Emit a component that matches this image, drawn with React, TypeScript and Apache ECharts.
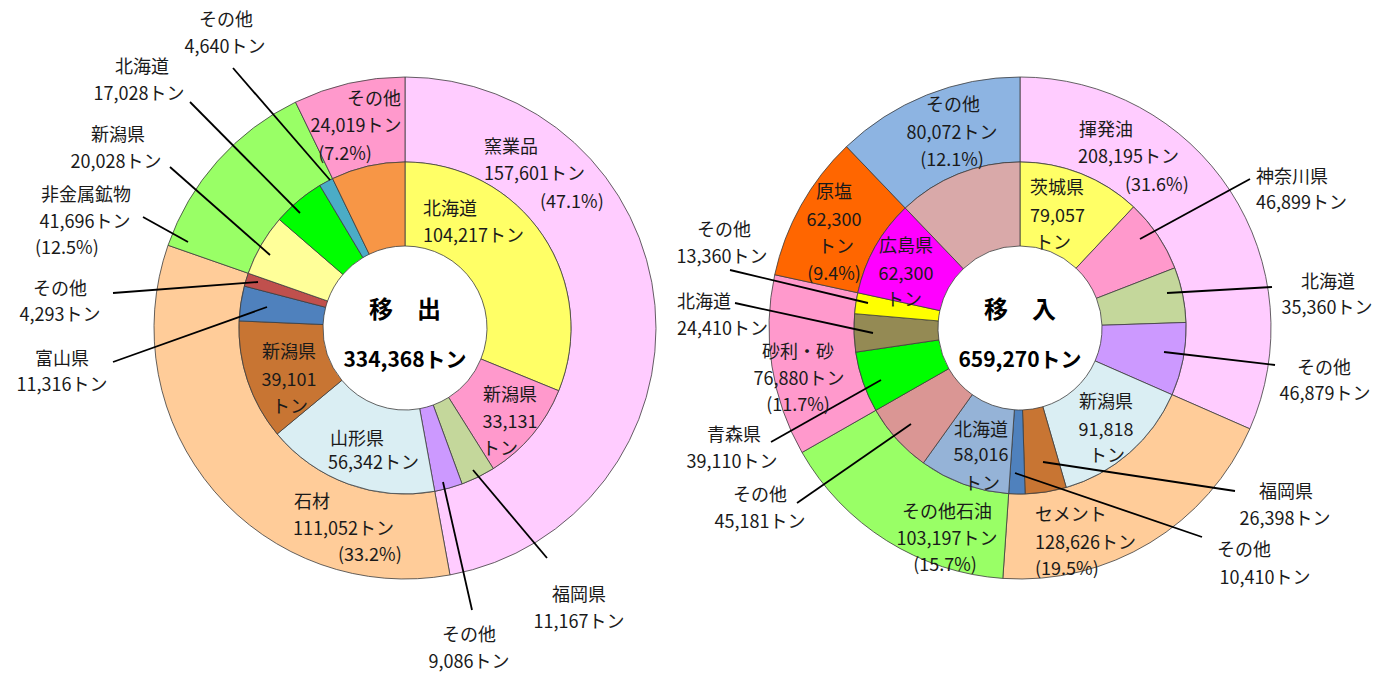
import React, { useEffect, useRef } from 'react';
import * as echarts from 'echarts';

// ---------- data ----------
const leftTitle = '移　出';
const leftOuterNames = ['窯業品', '石材', '非金属鉱物', 'その他'];
const leftOuterValues = [157601, 111052, 41696, 24019];
const leftInnerNames = ['北海道', '新潟県', '福岡県', 'その他', '山形県', '新潟県', '富山県', 'その他', '新潟県', '北海道', 'その他', 'その他'];
const leftInnerValues = [104217, 33131, 11167, 9086, 56342, 39101, 11316, 4293, 20028, 17028, 4640, 24019];

const rightTitle = '移　入';
const rightOuterNames = ['揮発油', 'セメント', 'その他石油', '砂利・砂', '原塩', 'その他'];
const rightOuterValues = [208195, 128626, 103197, 76880, 62300, 80072];
const rightInnerNames = ['茨城県', '神奈川県', '北海道', 'その他', '新潟県', '福岡県', 'その他', '北海道', 'その他', '青森県', '北海道', 'その他', '広島県', 'その他'];
const rightInnerValues = [79057, 46899, 35360, 46879, 91818, 26398, 10410, 58016, 45181, 39110, 24410, 13360, 62300, 80072];

// ---------- colours ----------
const leftOuterColors = ['#FFCCFF', '#FFCC99', '#99FF66', '#FF99CC'];
const leftInnerColors = ['#FFFF66', '#FF99CC', '#C4D79B', '#CC99FF', '#DAEEF3', '#C87533', '#4F81BD', '#C0504D', '#FFFF99', '#00FF00', '#4BACC6', '#F79646'];
const rightOuterColors = ['#FFCCFF', '#FFCC99', '#99FF66', '#FF99CC', '#FF6600', '#8DB4E2'];
const rightInnerColors = ['#FFFF66', '#FF99CC', '#C4D79B', '#CC99FF', '#DAEEF3', '#C87533', '#4F81BD', '#95B3D7', '#DA9694', '#00FF00', '#948A54', '#FFFF00', '#FF00FF', '#D9A9A9'];

// ---------- label layout (positions only) ----------
type Ln = [number, number, 'c' | 'l'];
type Lab = { src: string; idx: number; pct?: boolean; split?: boolean; lines: Ln[]; leader?: [number, number, number, number] };

const labelLayout: Lab[] = [
  // left outer
  { src: 'LO', idx: 3, pct: true, lines: [[374, 97, 'c'], [356, 124, 'c'], [345, 152, 'c']] },
  { src: 'LO', idx: 0, pct: true, lines: [[484, 145, 'l'], [484, 172, 'l'], [540, 200, 'l']] },
  { src: 'LO', idx: 1, pct: true, lines: [[294, 500, 'l'], [293, 527, 'l'], [338, 553, 'l']] },
  { src: 'LO', idx: 2, pct: true, lines: [[86, 193, 'c'], [85, 220, 'c'], [35, 246, 'l']], leader: [143, 217, 188, 242] },
  // left inner
  { src: 'LI', idx: 0, lines: [[423, 207, 'l'], [423, 234, 'l']] },
  { src: 'LI', idx: 1, split: true, lines: [[510, 393, 'c'], [510, 420, 'c'], [500, 447, 'c']] },
  { src: 'LI', idx: 2, lines: [[579, 593, 'c'], [579, 620, 'c']], leader: [547, 558, 473, 470] },
  { src: 'LI', idx: 3, lines: [[469, 633, 'c'], [469, 660, 'c']], leader: [472, 610, 443, 482] },
  { src: 'LI', idx: 4, lines: [[330, 437, 'l'], [328, 461, 'l']] },
  { src: 'LI', idx: 5, split: true, lines: [[289, 350, 'c'], [289, 378, 'c'], [290, 405, 'c']] },
  { src: 'LI', idx: 6, lines: [[62, 357, 'c'], [62, 383, 'c']], leader: [113, 362, 267, 307] },
  { src: 'LI', idx: 7, lines: [[60, 287, 'c'], [60, 313, 'c']], leader: [113, 293, 258, 282] },
  { src: 'LI', idx: 8, lines: [[118, 133, 'c'], [116, 160, 'c']], leader: [170, 167, 270, 255] },
  { src: 'LI', idx: 9, lines: [[142, 65, 'c'], [139, 92, 'c']], leader: [190, 102, 300, 213] },
  { src: 'LI', idx: 10, lines: [[226, 18, 'c'], [225, 45, 'c']], leader: [233, 68, 330, 180] },
  // right outer
  { src: 'RO', idx: 0, pct: true, lines: [[1079, 128, 'l'], [1078, 155, 'l'], [1125, 183, 'l']] },
  { src: 'RO', idx: 1, pct: true, lines: [[1035, 513, 'l'], [1035, 541, 'l'], [1035, 567, 'l']] },
  { src: 'RO', idx: 2, pct: true, lines: [[947, 510, 'c'], [947, 537, 'c'], [945, 563, 'c']] },
  { src: 'RO', idx: 3, pct: true, lines: [[798, 350, 'c'], [799, 377, 'c'], [798, 403, 'c']] },
  { src: 'RO', idx: 4, pct: true, split: true, lines: [[834, 190, 'c'], [834, 218, 'c'], [836, 245, 'c'], [834, 272, 'c']] },
  { src: 'RO', idx: 5, pct: true, lines: [[953, 103, 'c'], [952, 131, 'c'], [952, 158, 'c']] },
  // right inner
  { src: 'RI', idx: 0, split: true, lines: [[1030, 186, 'l'], [1030, 214, 'l'], [1035, 241, 'l']] },
  { src: 'RI', idx: 1, lines: [[1256, 175, 'l'], [1256, 201, 'l']], leader: [1250, 179, 1140, 239] },
  { src: 'RI', idx: 2, lines: [[1328, 280, 'c'], [1327, 306, 'c']], leader: [1272, 287, 1167, 293] },
  { src: 'RI', idx: 3, lines: [[1324, 366, 'c'], [1325, 392, 'c']], leader: [1275, 365, 1164, 352] },
  { src: 'RI', idx: 4, split: true, lines: [[1106, 400, 'c'], [1106, 428, 'c'], [1107, 454, 'c']] },
  { src: 'RI', idx: 5, lines: [[1286, 490, 'c'], [1285, 517, 'c']], leader: [1235, 491, 1043, 462] },
  { src: 'RI', idx: 6, lines: [[1244, 548, 'c'], [1265, 576, 'c']], leader: [1202, 537, 1015, 473] },
  { src: 'RI', idx: 7, split: true, lines: [[981, 428, 'c'], [981, 453, 'c'], [982, 482, 'c']] },
  { src: 'RI', idx: 8, lines: [[760, 493, 'c'], [760, 520, 'c']], leader: [797, 503, 911, 424] },
  { src: 'RI', idx: 9, lines: [[734, 433, 'c'], [732, 460, 'c']], leader: [771, 442, 881, 380] },
  { src: 'RI', idx: 10, lines: [[677, 300, 'l'], [677, 327, 'l']], leader: [735, 303, 873, 333] },
  { src: 'RI', idx: 11, lines: [[724, 228, 'c'], [722, 255, 'c']], leader: [730, 270, 868, 303] },
  { src: 'RI', idx: 12, split: true, lines: [[906, 244, 'c'], [906, 272, 'c'], [904, 298, 'c']] },
];

const LEFT_C = [405, 328];
const RIGHT_C = [1020, 328];
const R_HOLE = 82;
const R_MID = 166;
const R_OUT = 251;

const LABEL_FONT = "'Noto Sans CJK JP', 'Noto Sans', sans-serif";
const CENTER_FONT = "'Noto Sans CJK JP', 'Noto Sans', sans-serif";

const sum = (a: number[]) => a.reduce((s, v) => s + v, 0);
const fmt = (v: number) => v.toLocaleString('en-US');

const sources: Record<string, { names: string[]; values: number[]; total: number }> = {
  LO: { names: leftOuterNames, values: leftOuterValues, total: sum(leftOuterValues) },
  LI: { names: leftInnerNames, values: leftInnerValues, total: sum(leftOuterValues) },
  RO: { names: rightOuterNames, values: rightOuterValues, total: sum(rightOuterValues) },
  RI: { names: rightInnerNames, values: rightInnerValues, total: sum(rightOuterValues) },
};

function pieSeries(center: number[], radius: number[], names: string[], values: number[], colors: string[]) {
  return {
    type: 'pie',
    center,
    radius,
    startAngle: 90,
    clockwise: true,
    silent: true,
    avoidLabelOverlap: false,
    label: { show: false },
    labelLine: { show: false },
    emphasis: { disabled: true },
    itemStyle: { borderColor: '#3c3c3c', borderWidth: 0.8 },
    data: names.map((n, i) => ({ name: n, value: values[i], itemStyle: { color: colors[i] } })),
  };
}

function buildGraphics() {
  const g: any[] = [];
  labelLayout.forEach((lab) => {
    const s = sources[lab.src];
    const v = s.values[lab.idx];
    const texts: string[] = [s.names[lab.idx]];
    if (lab.split) {
      texts.push(fmt(v));
      texts.push('トン');
    } else {
      texts.push(fmt(v) + 'トン');
    }
    if (lab.pct) texts.push('(' + ((v / s.total) * 100).toFixed(1) + '%)');
    if (lab.leader) {
      const [x1, y1, x2, y2] = lab.leader;
      g.push({ type: 'line', z: 90, shape: { x1, y1, x2, y2 }, style: { stroke: '#000', lineWidth: 1.8 } });
    }
    texts.forEach((t, i) => {
      const p = lab.lines[i];
      if (!p) return;
      g.push({
        type: 'text', z: 100, x: p[0], y: p[1],
        style: {
          text: t, fill: '#1a1a1a', fontSize: 18, fontFamily: LABEL_FONT,
          align: p[2] === 'c' ? 'center' : 'left', verticalAlign: 'middle',
        },
      });
    });
  });
  const centers: [number[], string, number][] = [
    [LEFT_C, leftTitle, sum(leftOuterValues)],
    [RIGHT_C, rightTitle, sum(rightOuterValues)],
  ];
  centers.forEach(([c, title, total]) => {
    g.push({
      type: 'text', z: 100, x: c[0], y: c[1] - 21,
      style: { text: title, fill: '#000', fontSize: 24, fontWeight: 'bold', fontFamily: CENTER_FONT, align: 'center', verticalAlign: 'middle' },
    });
    g.push({
      type: 'text', z: 100, x: c[0], y: c[1] + 30,
      style: { text: fmt(total) + 'トン', fill: '#000', fontSize: 21, fontWeight: 'bold', fontFamily: CENTER_FONT, align: 'center', verticalAlign: 'middle' },
    });
  });
  return g;
}

export default function App() {
  const ref = useRef<HTMLDivElement>(null);
  useEffect(() => {
    if (!ref.current) return;
    const chart = echarts.init(ref.current, undefined, { renderer: 'svg' });
    chart.setOption({
      animation: false,
      backgroundColor: '#fff',
      series: [
        pieSeries(LEFT_C, [R_MID, R_OUT], leftOuterNames, leftOuterValues, leftOuterColors),
        pieSeries(LEFT_C, [R_HOLE, R_MID], leftInnerNames, leftInnerValues, leftInnerColors),
        pieSeries(RIGHT_C, [R_MID, R_OUT], rightOuterNames, rightOuterValues, rightOuterColors),
        pieSeries(RIGHT_C, [R_HOLE, R_MID], rightInnerNames, rightInnerValues, rightInnerColors),
      ],
      graphic: buildGraphics(),
    });
    return () => chart.dispose();
  }, []);
  return <div ref={ref} style={{ position: 'fixed', left: 0, top: 0, width: 1399, height: 675 }} />;
}
